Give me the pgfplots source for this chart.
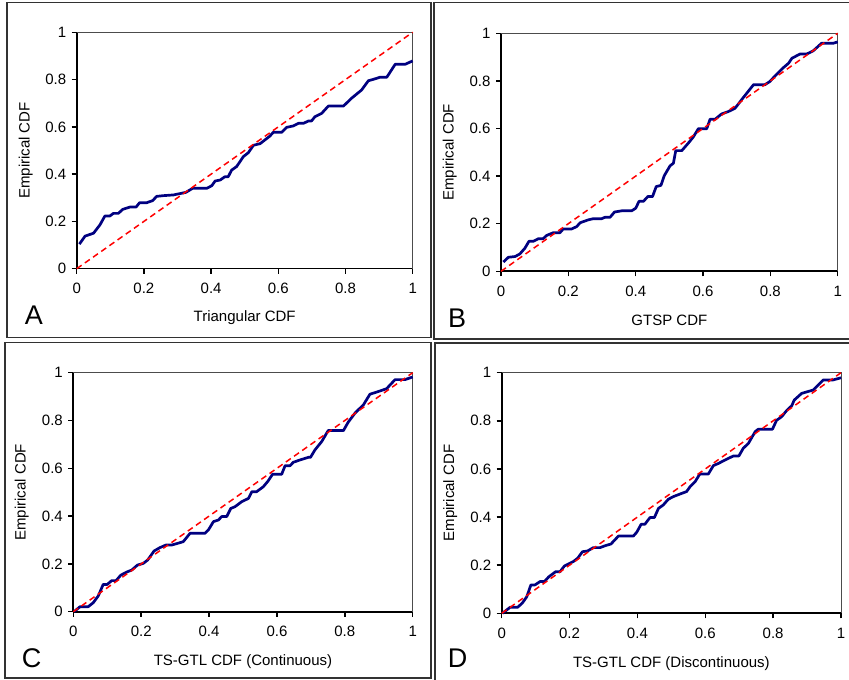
\documentclass[border=0pt]{standalone}
\usepackage{fontspec}
\setmainfont{Liberation Sans}
\usepackage{pgfplots}
\pgfplotsset{compat=1.18}
\newcommand\fs{\fontsize{15bp}{18bp}\selectfont}
\definecolor{navy}{RGB}{0,0,128}
\definecolor{framec}{RGB}{50,50,50}
\pgfplotsset{panel/.style={
  scale only axis, xmin=0, xmax=1, ymin=0, ymax=1,
  axis x line*=bottom, axis y line*=left,
  axis line style={black, line width=1.6bp, -},
  xtick={0,0.2,0.4,0.6,0.8,1}, ytick={0,0.2,0.4,0.6,0.8,1},
  tick align=outside, major tick length=5bp,
  tick style={black, line width=1.4bp},
  ticklabel style={font=\fs},
  xticklabel style={yshift=-6bp},
  yticklabel style={xshift=-2bp},
  label style={font=\fs},
  xlabel style={at={(axis description cs:0.5,-0.208)}, anchor=center},
  ylabel style={at={(axis description cs:-0.152,0.5)}, anchor=center},
  clip=false,
  /pgf/number format/assume math mode=true,
  ylabel={Empirical CDF},
}}
\tikzset{emp/.style={navy, line width=2.7bp, line join=round},
  diag/.style={red, line width=1.5bp, dash pattern=on 6bp off 4bp},
  topright/.style={draw=gray!60!black, line width=1bp}}
\begin{document}
\begin{tikzpicture}
\useasboundingbox (0,0) rectangle (849bp,680bp);
% panel frames
\draw[framec, line width=1.3bp] (7bp,677.5bp) rectangle (431bp,342.5bp);
\draw[framec, line width=1.3bp] (434bp,677.5bp) rectangle (852bp,341bp);
\draw[framec, line width=1.3bp] (5bp,337.5bp) rectangle (431bp,2bp);
\draw[framec, line width=1.3bp] (435bp,337bp) rectangle (852bp,-3bp);

% ---------- A ----------
\begin{axis}[panel, at={(76.7bp,411.3bp)}, anchor=south west, width=336bp, height=236.4bp,
  xlabel={Triangular CDF}]
\draw[topright] (rel axis cs:0,1) -- (rel axis cs:1,1) -- (rel axis cs:1,0);
\addplot[emp] coordinates {
(0.008,0.104) (0.025,0.138) (0.05,0.15) (0.069,0.185) (0.084,0.223) (0.099,0.223)
(0.109,0.234) (0.124,0.234) (0.137,0.251) (0.159,0.261) (0.177,0.261) (0.187,0.279)
(0.208,0.279) (0.226,0.288) (0.238,0.306) (0.258,0.309) (0.288,0.312) (0.312,0.319)
(0.325,0.323) (0.345,0.340) (0.387,0.340) (0.402,0.351) (0.412,0.371) (0.427,0.375)
(0.441,0.389) (0.451,0.389) (0.461,0.417) (0.476,0.432) (0.496,0.474) (0.511,0.491)
(0.526,0.522) (0.546,0.529) (0.565,0.550) (0.575,0.561) (0.585,0.577) (0.610,0.577)
(0.625,0.598) (0.645,0.604) (0.660,0.615) (0.675,0.615) (0.690,0.625) (0.699,0.625)
(0.709,0.643) (0.729,0.657) (0.749,0.688) (0.794,0.688) (0.818,0.721) (0.848,0.756)
(0.868,0.795) (0.883,0.801) (0.903,0.810) (0.923,0.810) (0.948,0.865) (0.978,0.865)
(1.0,0.879)};
\addplot[diag] coordinates {(0,0) (1,1)};
\end{axis}

% ---------- B ----------
\begin{axis}[panel, at={(501bp,408.7bp)}, anchor=south west, width=336.7bp, height=238bp,
  xlabel={GTSP CDF}]
\draw[topright] (rel axis cs:0,1) -- (rel axis cs:1,1) -- (rel axis cs:1,0);
\addplot[emp] coordinates {
(0.007,0.039) (0.022,0.059) (0.042,0.062) (0.056,0.073) (0.071,0.097) (0.083,0.126)
(0.096,0.126) (0.111,0.137) (0.125,0.137) (0.136,0.151) (0.155,0.162) (0.175,0.162)
(0.185,0.178) (0.210,0.178) (0.225,0.188) (0.235,0.204) (0.259,0.216) (0.274,0.221)
(0.299,0.221) (0.309,0.227) (0.324,0.227) (0.337,0.249) (0.358,0.254) (0.388,0.254)
(0.400,0.265) (0.410,0.294) (0.423,0.294) (0.436,0.314) (0.450,0.314) (0.461,0.356)
(0.475,0.361) (0.485,0.402) (0.502,0.443) (0.512,0.454) (0.519,0.507) (0.537,0.507)
(0.556,0.538) (0.571,0.564) (0.586,0.599) (0.611,0.599) (0.621,0.639) (0.636,0.639)
(0.655,0.661) (0.675,0.671) (0.695,0.685) (0.705,0.703) (0.718,0.727) (0.750,0.784)
(0.784,0.784) (0.799,0.798) (0.814,0.821) (0.839,0.856) (0.854,0.874) (0.864,0.895)
(0.888,0.913) (0.908,0.913) (0.927,0.926) (0.952,0.958) (0.987,0.958) (1.0,0.964)};
\addplot[diag] coordinates {(0,0) (1,1)};
\end{axis}

% ---------- C ----------
\begin{axis}[panel, at={(73.3bp,68.3bp)}, anchor=south west, width=339.4bp, height=239bp,
  xlabel={TS-GTL CDF (Continuous)}]
\draw[topright] (rel axis cs:0,1) -- (rel axis cs:1,1) -- (rel axis cs:1,0);
\addplot[emp] coordinates {
(0.002,0) (0.020,0.021) (0.044,0.021) (0.059,0.038) (0.074,0.067) (0.088,0.114)
(0.100,0.114) (0.113,0.130) (0.126,0.130) (0.140,0.153) (0.159,0.167) (0.172,0.174)
(0.189,0.195) (0.206,0.202) (0.219,0.216) (0.238,0.254) (0.255,0.268) (0.273,0.279)
(0.290,0.279) (0.305,0.285) (0.324,0.293) (0.344,0.328) (0.388,0.328) (0.398,0.342)
(0.413,0.377) (0.428,0.384) (0.437,0.398) (0.452,0.398) (0.464,0.432) (0.476,0.439)
(0.496,0.460) (0.516,0.474) (0.526,0.502) (0.540,0.502) (0.560,0.523) (0.574,0.547)
(0.587,0.575) (0.614,0.575) (0.624,0.611) (0.639,0.611) (0.648,0.625) (0.668,0.635)
(0.693,0.646) (0.699,0.646) (0.712,0.677) (0.732,0.712) (0.751,0.758) (0.796,0.758)
(0.810,0.793) (0.830,0.831) (0.855,0.866) (0.874,0.910) (0.894,0.919) (0.923,0.933)
(0.948,0.971) (0.977,0.971) (1.0,0.982)};
\addplot[diag] coordinates {(0,0) (1,1)};
\end{axis}

% ---------- D ----------
\begin{axis}[panel, at={(501.7bp,66.7bp)}, anchor=south west, width=339.3bp, height=240.6bp,
  xlabel={TS-GTL CDF (Discontinuous)}]
\draw[topright] (rel axis cs:0,1) -- (rel axis cs:1,1) -- (rel axis cs:1,0);
\addplot[emp] coordinates {
(0.002,0) (0.025,0.025) (0.047,0.025) (0.061,0.043) (0.074,0.069) (0.086,0.118)
(0.098,0.118) (0.113,0.132) (0.126,0.132) (0.139,0.152) (0.159,0.173) (0.172,0.173)
(0.185,0.197) (0.211,0.215) (0.224,0.229) (0.238,0.256) (0.253,0.259) (0.270,0.273)
(0.290,0.273) (0.305,0.281) (0.322,0.288) (0.344,0.321) (0.388,0.321) (0.398,0.337)
(0.411,0.370) (0.422,0.370) (0.437,0.398) (0.450,0.398) (0.462,0.436) (0.476,0.450)
(0.491,0.474) (0.506,0.485) (0.526,0.496) (0.545,0.506) (0.555,0.526) (0.570,0.547)
(0.584,0.579) (0.609,0.579) (0.624,0.614) (0.639,0.623) (0.658,0.637) (0.683,0.654)
(0.699,0.654) (0.712,0.686) (0.727,0.706) (0.747,0.755) (0.756,0.765) (0.798,0.765)
(0.810,0.802) (0.825,0.817) (0.840,0.843) (0.855,0.863) (0.862,0.886) (0.884,0.914)
(0.918,0.928) (0.948,0.970) (0.977,0.970) (1.0,0.979)};
\addplot[diag] coordinates {(0,0) (1,1)};
\end{axis}

% panel letters
\node[font=\fontsize{27bp}{30bp}\selectfont] at (34bp,365bp) {A};
\node[font=\fontsize{27bp}{30bp}\selectfont] at (457bp,362bp) {B};
\node[font=\fontsize{27bp}{30bp}\selectfont] at (31.7bp,22bp) {C};
\node[font=\fontsize{27bp}{30bp}\selectfont] at (457.7bp,22bp) {D};
\end{tikzpicture}
\end{document}
